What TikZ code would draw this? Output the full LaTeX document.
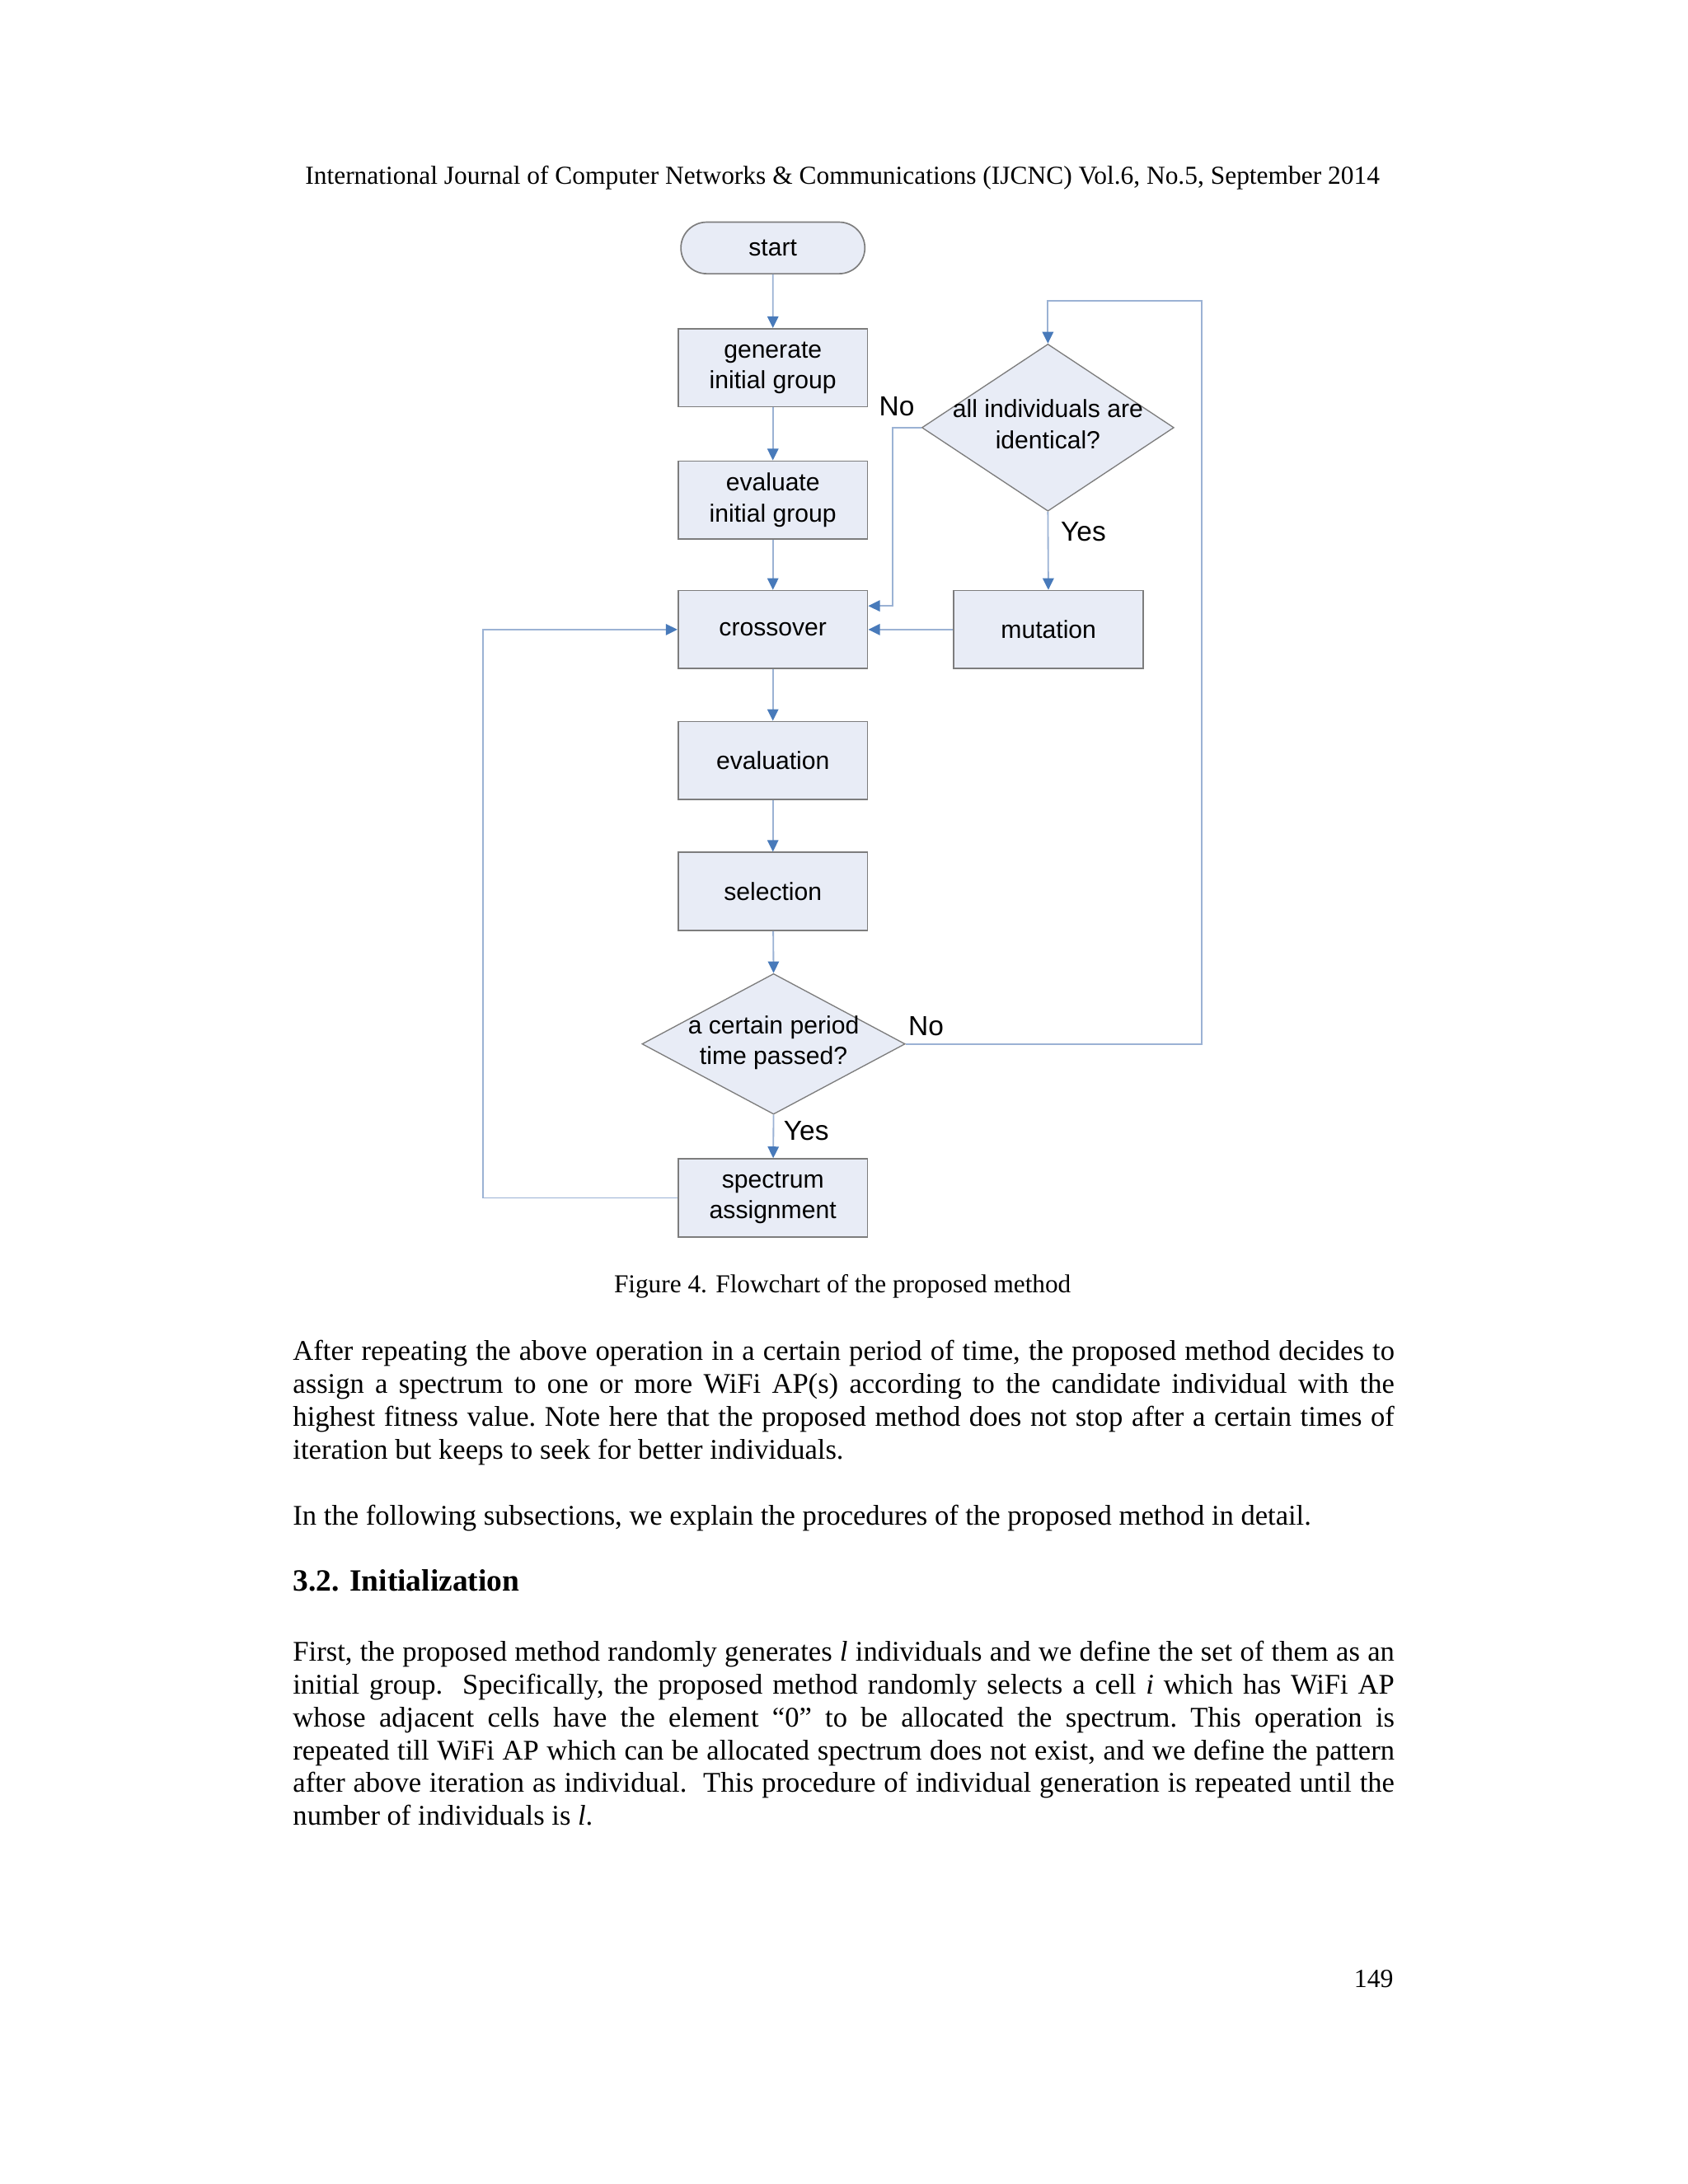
\documentclass[tikz,border=0pt]{standalone}
\usepackage{fontspec}
\setmainfont{Liberation Serif}
\newfontfamily\chartfont{Liberation Sans}
\usetikzlibrary{shapes.geometric,shapes.misc,arrows.meta}

\definecolor{boxfill}{RGB}{232,236,246}
\definecolor{boxline}{RGB}{125,125,125}
\definecolor{wirecol}{RGB}{155,178,212}
\definecolor{tipblue}{RGB}{72,122,186}

\newcommand{\asktext}[1]{\smash{\makebox[0pt]{\raisebox{-2pt}{\begin{tabular}{@{}c@{}}#1\end{tabular}}}}}
\newcommand{\bodyfont}{\fontsize{10.33}{11.87}\selectfont\frenchspacing\tolerance=9999\relax\hyphenpenalty=10000\relax}

\tikzset{
  chart/.style={font=\chartfont\fontsize{9}{11.1}\selectfont},
  stepbox/.style={chart, draw=boxline, fill=boxfill, line width=0.5pt, minimum width=68.7pt, minimum height=28.3pt, inner sep=1pt, align=center},
  termbox/.style={stepbox, rounded rectangle, minimum height=18.7pt},
  askbox/.style={chart, diamond, draw=boxline, fill=boxfill, line width=0.4pt, inner sep=0pt},
  wire/.style={draw=wirecol, line width=0.55pt, -{Triangle[length=4.2pt,width=4pt,color=tipblue]}},
  tag/.style={font=\chartfont\fontsize{10}{12}\selectfont, inner sep=0pt},
  para/.style={anchor=north west, inner sep=0pt, text width=399.4pt, align=justify, font=\bodyfont},
}

\begin{document}
\begin{tikzpicture}[x=0.50495pt,y=0.5051pt,yscale=-1,xscale=1]
  \fill[white] (0,0) rectangle (1212,1568);
  \useasboundingbox (0,0) rectangle (1212,1568);

  % running head
  \node (head) [anchor=base, inner sep=0pt, font=\fontsize{9.4}{11}\selectfont] at (605,132)
    {International Journal of Computer Networks \& Communications (IJCNC) Vol.6, No.5, September 2014};

  % main column
  \node (start)    [termbox] at (555,178) {start};
  \node (gen)      [stepbox] at (555,264) {generate\\initial group};
  \node (evalinit) [stepbox] at (555,359) {evaluate\\initial group};
  \node (cross)    [stepbox] at (555,452) {crossover};
  \node (evaluate) [stepbox] at (555,546) {evaluation};
  \node (select)   [stepbox] at (555,640) {selection};
  \node (period)   [askbox, minimum width=95.4pt, minimum height=51pt] at (555.5,749.5)
    {\asktext{a certain period\\time passed?}};
  \node (spectrum) [stepbox] at (555,860) {spectrum\\assignment};

  % right column
  \node (ident)    [askbox, minimum width=91.4pt, minimum height=60.6pt] at (752.5,307)
    {\asktext{all individuals are\\identical?}};
  \node (mutation) [stepbox] at (753,452) {mutation};

  % corner points
  \coordinate (nojoin)    at (641,435);
  \coordinate (rightrail) at (863,216);
  \coordinate (leftrail)  at (347,452);

  % connectors
  \draw[wire] (start) -- (gen);
  \draw[wire] (gen) -- (evalinit);
  \draw[wire] (evalinit) -- (cross);
  \draw[wire] (cross) -- (evaluate);
  \draw[wire] (evaluate) -- (select);
  \draw[wire] (select) -- (period.north);
  \draw[wire] (period.south) -- (spectrum);
  \draw[wire] (period.east) -| (rightrail) -| (ident.north);
  \draw[wire] (ident.south) -- (mutation);
  \draw[wire] (ident.west) -| (nojoin) -- (nojoin -| cross.east);
  \draw[wire] (mutation) -- (cross);
  \draw[wire] (spectrum.west) -| (leftrail) -- (cross.west);

  % branch labels
  \node (noident)  [tag] at (644,292) {No};
  \node (yesident) [tag] at (778,382) {Yes};
  \node (noperiod) [tag] at (665,737) {No};
  \node (yesperiod)[tag] at (579,812) {Yes};

  % caption
  \node (caption) [anchor=base, inner sep=0pt, font=\fontsize{9.35}{11}\selectfont] at (605,928)
    {Figure 4. Flowchart of the proposed method};

  % body text
  \node (parone) [para] at (210,962)
    {After repeating the above operation in a certain period of time, the proposed method decides to\linebreak
     assign a spectrum to one or more WiFi AP(s) according to the candidate individual with the\linebreak
     highest fitness value. Note here that the proposed method does not stop after a certain times of\linebreak
     iteration but keeps to seek for better individuals.};
  \node (partwo) [para] at (210,1080)
    {In the following subsections, we explain the procedures of the proposed method in detail.};
  \node (section) [anchor=base west, inner sep=0pt, font=\fontsize{11.2}{13}\selectfont\bfseries] at (210,1142)
    {3.2. Initialization};
  \node (parthree) [para] at (210,1178)
    {First, the proposed method randomly generates \textit{l} individuals and we define the set of them as an\linebreak
     initial group.~ Specifically, the proposed method randomly selects a cell \textit{i} which has WiFi AP\linebreak
     whose adjacent cells have the element “0” to be allocated the spectrum. This operation is\linebreak
     repeated till WiFi AP which can be allocated spectrum does not exist, and we define the pattern\linebreak
     after above iteration as individual.~ This procedure of individual generation is repeated until the\linebreak
     number of individuals is \textit{l}.};

  % page number
  \node (pageno) [anchor=base east, inner sep=0pt, font=\fontsize{9.5}{11}\selectfont] at (1001,1427) {149};
\end{tikzpicture}
\end{document}
